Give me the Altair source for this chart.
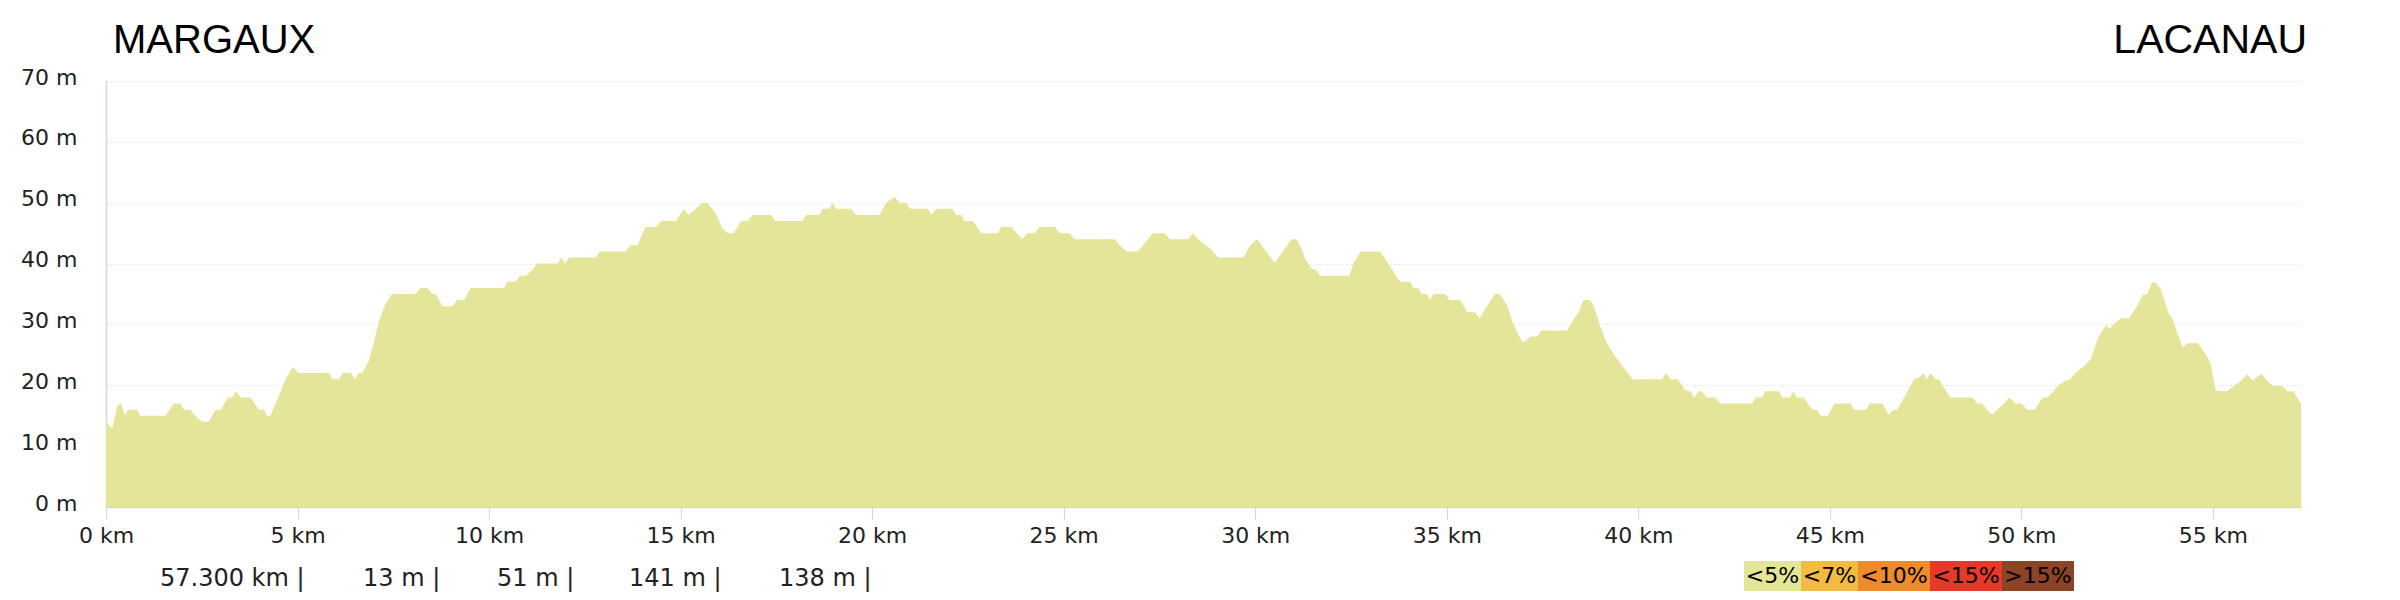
import altair as alt
import pandas as pd

# ---------------- data ----------------
distance_km = [
    0.00, 0.07, 0.16, 0.29, 0.39, 0.49, 0.59, 0.81, 0.90, 1.55, 1.77, 1.94, 2.03, 2.20, 2.33,
    2.51, 2.68, 2.86, 2.99, 3.19, 3.29, 3.40, 3.51, 3.77, 3.99, 4.12, 4.21, 4.29, 4.43, 4.69,
    4.88, 5.02, 5.82, 5.91, 6.08, 6.18, 6.39, 6.50, 6.59, 6.69, 6.86, 6.99, 7.13, 7.30, 7.47,
    8.08, 8.21, 8.39, 8.52, 8.61, 8.78, 9.04, 9.17, 9.35, 9.52, 10.39, 10.48, 10.70, 10.80, 10.96,
    11.13, 11.26, 11.79, 11.89, 11.98, 12.09, 12.79, 12.89, 13.57, 13.68, 13.88, 14.08, 14.36, 14.49, 14.88,
    15.08, 15.21, 15.40, 15.57, 15.70, 15.92, 16.09, 16.23, 16.38, 16.58, 16.75, 16.88, 17.36, 17.47, 18.19,
    18.28, 18.62, 18.71, 18.89, 18.97, 19.06, 19.45, 19.58, 20.19, 20.37, 20.58, 20.71, 20.89, 20.99, 21.46,
    21.54, 21.69, 22.09, 22.20, 22.33, 22.41, 22.63, 22.85, 23.28, 23.37, 23.63, 23.92, 24.04, 24.24, 24.37,
    24.77, 24.90, 25.15, 25.29, 26.33, 26.46, 26.64, 26.94, 27.07, 27.33, 27.64, 27.77, 28.25, 28.38, 28.51,
    28.68, 28.82, 28.90, 29.03, 29.69, 29.86, 30.05, 30.30, 30.51, 30.78, 30.95, 31.08, 31.19, 31.30, 31.47,
    31.60, 31.69, 32.46, 32.56, 32.75, 33.26, 33.47, 33.78, 34.04, 34.13, 34.26, 34.35, 34.48, 34.56, 34.65,
    34.96, 35.07, 35.35, 35.54, 35.74, 35.85, 36.05, 36.26, 36.38, 36.57, 36.70, 36.85, 36.99, 37.19, 37.37,
    37.46, 38.14, 38.27, 38.45, 38.57, 38.73, 38.83, 39.01, 39.18, 39.40, 39.62, 39.70, 39.86, 40.62, 40.73,
    40.84, 41.03, 41.23, 41.36, 41.45, 41.58, 41.66, 41.78, 42.01, 42.14, 42.97, 43.06, 43.23, 43.32, 43.67,
    43.76, 43.96, 44.05, 44.13, 44.32, 44.54, 44.67, 44.76, 44.95, 45.12, 45.54, 45.63, 45.96, 46.04, 46.37,
    46.54, 46.66, 46.76, 46.94, 47.20, 47.36, 47.44, 47.53, 47.63, 47.76, 47.85, 48.14, 48.72, 48.85, 48.98,
    49.10, 49.24, 49.37, 49.55, 49.68, 49.85, 50.00, 50.15, 50.35, 50.55, 50.68, 50.81, 50.95, 51.15, 51.28,
    51.41, 51.61, 51.81, 52.01, 52.21, 52.30, 52.41, 52.61, 52.81, 53.01, 53.18, 53.28, 53.41, 53.50, 53.64,
    53.74, 53.85, 53.94, 54.08, 54.21, 54.34, 54.61, 54.81, 54.94, 55.07, 55.37, 55.54, 55.74, 55.90, 56.03,
    56.27, 56.41, 56.57, 56.81, 56.94, 57.10, 57.30,
]
elevation_m = [
    14.0, 13.5, 12.8, 16.5, 17.0, 15.1, 16.0, 16.0, 15.0, 15.0, 17.0, 17.0, 16.0, 16.0, 15.0,
    14.0, 14.0, 16.0, 16.0, 18.0, 18.0, 19.0, 18.0, 18.0, 16.0, 16.0, 15.0, 15.0, 17.0, 21.0,
    23.0, 22.0, 22.0, 21.0, 21.0, 22.0, 22.0, 21.0, 22.0, 22.0, 24.0, 27.0, 30.7, 33.4, 35.0,
    35.0, 36.0, 36.0, 35.0, 35.0, 33.0, 33.0, 34.0, 34.0, 36.0, 36.0, 37.0, 37.0, 38.0, 38.0,
    39.0, 40.0, 40.0, 41.0, 40.0, 41.0, 41.0, 42.0, 42.0, 43.0, 43.0, 46.0, 46.0, 47.0, 47.0,
    49.0, 48.0, 49.0, 50.0, 50.0, 48.2, 45.8, 45.0, 45.0, 47.0, 47.0, 48.0, 48.0, 47.0, 47.0,
    48.0, 48.0, 49.0, 49.0, 50.0, 49.0, 49.0, 48.0, 48.0, 50.0, 51.0, 50.0, 50.0, 49.0, 49.0,
    48.0, 49.0, 49.0, 48.0, 48.0, 47.0, 47.0, 45.0, 45.0, 46.0, 46.0, 44.0, 45.0, 45.0, 46.0,
    46.0, 45.0, 45.0, 44.0, 44.0, 43.0, 42.0, 42.0, 43.0, 45.0, 45.0, 44.0, 44.0, 45.0, 44.0,
    43.0, 42.5, 42.0, 41.0, 41.0, 42.9, 44.0, 41.9, 40.1, 42.5, 44.0, 44.0, 42.7, 40.8, 39.2,
    38.9, 38.0, 38.0, 40.0, 42.0, 42.0, 40.0, 37.0, 37.0, 36.0, 36.0, 35.0, 35.0, 34.0, 35.0,
    35.0, 34.0, 34.0, 32.0, 32.0, 31.0, 33.0, 35.0, 35.0, 33.2, 30.7, 28.5, 27.0, 28.0, 28.0,
    29.0, 29.0, 30.4, 32.1, 34.0, 34.0, 33.2, 29.6, 26.9, 24.7, 22.9, 22.2, 21.0, 21.0, 22.0,
    21.0, 21.0, 19.2, 19.0, 18.0, 19.0, 19.0, 18.0, 18.0, 17.0, 17.0, 18.0, 18.0, 19.0, 19.0,
    18.0, 18.0, 19.0, 18.0, 18.0, 16.0, 16.0, 15.0, 15.0, 17.0, 17.0, 16.0, 16.0, 17.0, 17.0,
    15.2, 16.0, 16.0, 18.0, 21.0, 21.4, 22.0, 21.0, 22.0, 21.0, 21.0, 18.0, 18.0, 17.0, 17.0,
    16.0, 15.2, 16.0, 17.0, 18.0, 17.0, 17.0, 16.0, 16.0, 18.0, 18.0, 18.8, 19.9, 20.8, 21.0,
    22.0, 23.0, 24.3, 27.9, 29.9, 29.2, 30.1, 31.0, 31.0, 32.9, 34.9, 34.9, 36.9, 36.9, 35.8,
    33.9, 31.7, 31.0, 28.4, 26.2, 26.9, 26.9, 25.1, 23.7, 19.1, 19.0, 19.9, 20.8, 21.8, 20.8,
    21.9, 20.8, 19.9, 19.9, 19.0, 19.0, 17.0,
]
x_ticks = [0, 5, 10, 15, 20, 25, 30, 35, 40, 45, 50, 55]
y_ticks = [0, 10, 20, 30, 40, 50, 60, 70]
start_name = "MARGAUX"
end_name = "LACANAU"
summary_texts = ["57.300 km |", "13 m |", "51 m |", "141 m |", "138 m |"]
grade_labels = ["<5%", "<7%", "<10%", "<15%", ">15%"]
grade_colors = ["#e4e598", "#f1bc41", "#ee8b2b", "#e5392a", "#8c4427"]

# ---------------- layout (pixels, relative to plot origin) ----------------
W, H = 2195, 426
summary_left = [54, 257, 391, 523, 673]
summary_y = 498
legend_edges = [1638, 1695, 1752, 1824, 1896, 1968]
legend_top, legend_bottom = 480, 510

FONT = "DejaVu Sans"
AXIS_COLOR = "#ccd6eb"

profile = pd.DataFrame({"km": distance_km, "m": elevation_m})

area = alt.Chart(profile).mark_area(color="#e4e598", opacity=1, interpolate="linear").encode(
    x=alt.X(
        "km:Q",
        scale=alt.Scale(domain=[0, 57.3], nice=False, zero=False),
        axis=alt.Axis(
            values=x_ticks, labelExpr="datum.value + ' km'", title=None, grid=False,
            domainColor=AXIS_COLOR, domainWidth=1.5, tickColor=AXIS_COLOR, tickSize=12,
            tickWidth=1, labelFont=FONT, labelFontSize=22, labelColor="#222222",
            labelPadding=6, labelFlush=False, labelOverlap=False,
        ),
    ),
    y=alt.Y(
        "m:Q",
        scale=alt.Scale(domain=[0, 70], nice=False),
        axis=alt.Axis(
            values=y_ticks, labelExpr="datum.value + ' m'", title=None, grid=True,
            gridColor="#cfcfcf", gridDash=[1, 3], gridWidth=1,
            domainColor=AXIS_COLOR, domainWidth=1.5, ticks=False,
            labelFont=FONT, labelFontSize=22, labelColor="#222222", labelPadding=29,
            labelOffset=-4, labelFlush=False, labelOverlap=False,
        ),
    ),
)

titles_df = pd.DataFrame({"name": [start_name, end_name], "px": [7, 2201]})
start_title = alt.Chart(titles_df.iloc[[0]]).mark_text(
    font="Liberation Sans", fontSize=40, align="left", baseline="alphabetic", color="#000000"
).encode(x=alt.X("px:Q", scale=None), y=alt.value(-28), text="name:N")
end_title = alt.Chart(titles_df.iloc[[1]]).mark_text(
    font="Liberation Sans", fontSize=41, align="right", baseline="alphabetic", color="#000000"
).encode(x=alt.X("px:Q", scale=None), y=alt.value(-28), text="name:N")

summary_df = pd.DataFrame({"txt": summary_texts, "px": summary_left})
summary = alt.Chart(summary_df).mark_text(
    font=FONT, fontSize=24, align="left", baseline="middle", color="#222222"
).encode(x=alt.X("px:Q", scale=None), y=alt.value(summary_y), text="txt:N")

legend_df = pd.DataFrame({
    "lab": grade_labels,
    "col": grade_colors,
    "x0": legend_edges[:-1],
    "x1": legend_edges[1:],
})
legend_df["xc"] = (legend_df["x0"] + legend_df["x1"]) / 2
legend_rects = alt.Chart(legend_df).mark_rect(opacity=1).encode(
    x=alt.X("x0:Q", scale=None), x2="x1:Q",
    y=alt.value(legend_top), y2=alt.value(legend_bottom),
    color=alt.Color("col:N", scale=None, legend=None),
)
legend_text = alt.Chart(legend_df).mark_text(
    font=FONT, fontSize=22, align="center", baseline="middle", color="#000000"
).encode(x=alt.X("xc:Q", scale=None), y=alt.value((legend_top + legend_bottom) / 2), text="lab:N")

chart = alt.layer(area, start_title, end_title, summary, legend_rects, legend_text).properties(
    width=W, height=H,
    background="white",
    autosize=alt.AutoSizeParams(type="none"),
    padding={"left": 98, "top": 73, "right": 90, "bottom": 86},
).configure_view(strokeWidth=0, stroke="transparent")

chart.save("out.html", embed_options={"renderer": "svg", "actions": False})
